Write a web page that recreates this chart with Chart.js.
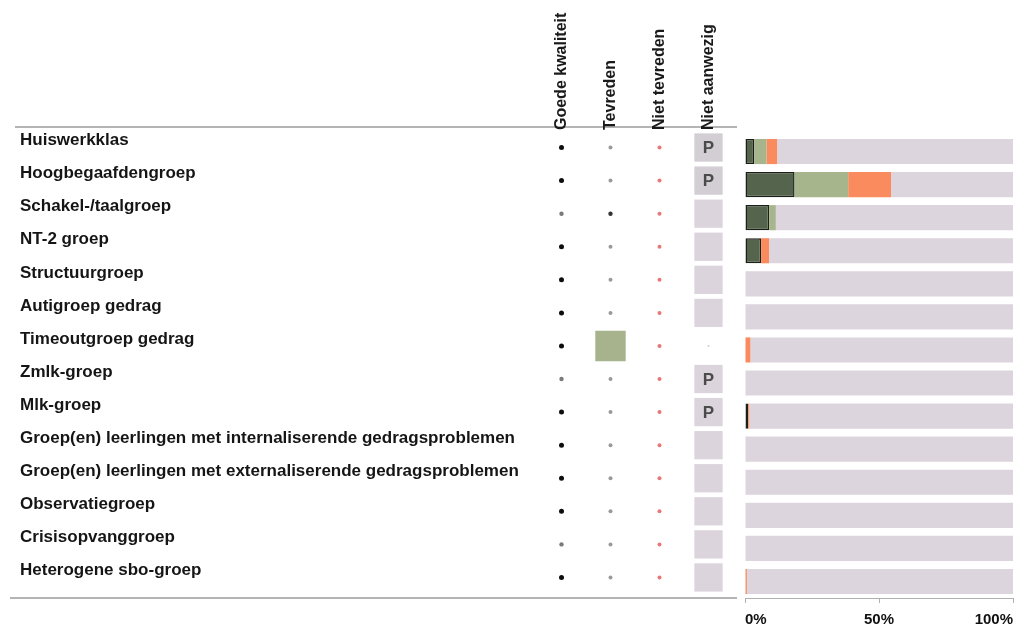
<!DOCTYPE html>
<html>
<head>
<meta charset="utf-8">
<script src="https://cdn.jsdelivr.net/npm/chart.js@4"></script>
<style>
    html, body { margin: 0; background: #fff; }
    #wrap { position: relative; width: 1016px; height: 633px; overflow: hidden; }
    #left { position: absolute; left: 0; top: 0; width: 737px; height: 633px; }
    #right { position: absolute; left: 735px; top: 0; width: 281px; height: 633px; }
</style>
</head>
<body>
<div id="wrap">
    <div id="left"><canvas id="chart-matrix"></canvas></div>
    <div id="right"><canvas id="chart-bars"></canvas></div>
</div>
<script>
// Groepen en kolommen
const groepen = [
    'Huiswerkklas',
    'Hoogbegaafdengroep',
    'Schakel-/taalgroep',
    'NT-2 groep',
    'Structuurgroep',
    'Autigroep gedrag',
    'Timeoutgroep gedrag',
    'Zmlk-groep',
    'Mlk-groep',
    'Groep(en) leerlingen met internaliserende gedragsproblemen',
    'Groep(en) leerlingen met externaliserende gedragsproblemen',
    'Observatiegroep',
    'Crisisopvanggroep',
    'Heterogene sbo-groep',
];
const kolommen = ['Goede kwaliteit', 'Tevreden', 'Niet tevreden', 'Niet aanwezig'];

// 2 = zwarte stip, 1 = grijze stip, 3 = groen vlak
const goedeKwaliteit = [2, 2, 1, 2, 2, 2, 2, 1, 2, 2, 2, 2, 1, 2];
const tevreden = [1, 1, 2, 1, 1, 1, 3, 1, 1, 1, 1, 1, 1, 1];
const nietTevreden = [1, 1, 1, 1, 1, 1, 1, 1, 1, 1, 1, 1, 1, 1];
// 'P' = vak met P, '' = leeg vak, '-' = alleen een stipje
const nietAanwezig = ['P', 'P', '', '', '', '', '-', 'P', 'P', '', '', '', '', ''];

// Balken (%)
const donkerGroen = [3.5, 18.5, 9, 6, 0, 0, 0, 0, 1.2, 0, 0, 0, 0, 0];
const lichtGroen = [4.5, 20, 2.5, 0, 0, 0, 0, 0, 0, 0, 0, 0, 0, 0];
const oranje = [4, 16, 0, 3, 0, 0, 2, 0, 0.4, 0, 0, 0, 0, 0.7];
const xTicks = [0, 50, 100];

const FONT = '"Liberation Sans", Arial, sans-serif';

function stipDataset(kolom, waarden, kleuren, radii) {
    return {
        data: groepen.map(g => ({ x: kolom, y: g })),
        pointStyle: waarden.map(v => (v === 3 ? 'rect' : 'circle')),
        pointRadius: waarden.map(v => radii[v]),
        pointBackgroundColor: waarden.map(v => kleuren[v]),
        pointBorderWidth: 0,
    };
}

// no side padding for tick labels, the plot area is set by hand
const noLabelPadding = s => {
    s.paddingLeft = 0;
    s.paddingRight = 0;
};

const regels = {
    id: 'regels',
    beforeDraw(chart) {
        const { ctx, chartArea } = chart;
        ctx.save();
        ctx.strokeStyle = '#9c9c9c';
        ctx.lineWidth = 1.5;
        ctx.beginPath();
        ctx.moveTo(15, chartArea.top - 4);
        ctx.lineTo(chart.width, chartArea.top - 4);
        ctx.moveTo(10, chartArea.bottom + 4);
        ctx.lineTo(chart.width, chartArea.bottom + 4);
        ctx.stroke();
        ctx.restore();
    },
};

const pLetters = {
    id: 'pLetters',
    afterDatasetsDraw(chart) {
        const meta = chart.getDatasetMeta(3);
        const ctx = chart.ctx;
        ctx.save();
        ctx.font = 'bold 17px ' + FONT;
        ctx.fillStyle = '#4b4b4b';
        ctx.textAlign = 'center';
        ctx.textBaseline = 'middle';
        meta.data.forEach((pt, i) => {
            if (nietAanwezig[i] === 'P') ctx.fillText('P', pt.x, pt.y + 1);
        });
        ctx.restore();
    },
};

new Chart(document.getElementById('chart-matrix'), {
    type: 'scatter',
    data: {
        datasets: [
            stipDataset(kolommen[0], goedeKwaliteit, { 1: '#7a7a7a', 2: '#0d0d0d' }, { 1: 2.2, 2: 2.5 }),
            stipDataset(kolommen[1], tevreden, { 1: '#9a9a9a', 2: '#333333', 3: '#a7b38d' }, { 1: 2, 2: 2.2, 3: 21.5 }),
            stipDataset(kolommen[2], nietTevreden, { 1: '#e97777' }, { 1: 2 }),
            {
                data: groepen.map(g => ({ x: kolommen[3], y: g })),
                pointStyle: 'rect',
                pointRadius: nietAanwezig.map(v => (v === '-' ? 1.2 : 20)),
                pointBackgroundColor: nietAanwezig.map((v, i) => (v === '-' ? '#cccccc' : i < 2 ? '#d2ced3' : '#dcd4dc')),
                pointBorderWidth: 0,
            },
        ],
    },
    options: {
        responsive: true,
        maintainAspectRatio: false,
        animation: false,
        layout: { autoPadding: false, padding: { left: 20, right: 4, top: 0, bottom: 39 } },
        scales: {
            x: {
                type: 'category',
                labels: kolommen,
                position: 'top',
                offset: true,
                grid: { display: false },
                border: { display: false },
                afterFit: s => {
                    s.height = 131;
                    noLabelPadding(s);
                },
                ticks: {
                    color: '#1a1a1a',
                    font: { family: FONT, size: 16, weight: 'bold' },
                    minRotation: 90,
                    maxRotation: 90,
                    padding: -7,
                    labelOffset: 19,
                },
            },
            y: {
                type: 'category',
                labels: groepen,
                offset: true,
                grid: { display: false },
                border: { display: false },
                afterFit: s => { s.width = 517; },
                ticks: {
                    crossAlign: 'far',
                    labelOffset: -7,
                    color: '#151515',
                    font: { family: FONT, size: 17, weight: 'bold' },
                },
            },
        },
        plugins: {
            legend: { display: false },
            tooltip: { enabled: false },
        },
    },
    plugins: [regels, pLetters],
});

const rest = groepen.map((g, i) => 100 - donkerGroen[i] - lichtGroen[i] - oranje[i]);

new Chart(document.getElementById('chart-bars'), {
    type: 'bar',
    data: {
        labels: groepen,
        datasets: [
            { label: 'Goede kwaliteit', data: donkerGroen, backgroundColor: '#55654d', borderColor: '#1b1f18', borderWidth: 1.5, borderSkipped: false },
            { label: 'Tevreden', data: lichtGroen, backgroundColor: '#a6b58b' },
            { label: 'Niet tevreden', data: oranje, backgroundColor: '#f98b5e' },
            { label: 'Rest', data: rest, backgroundColor: '#ddd5dd' },
        ],
    },
    options: {
        indexAxis: 'y',
        responsive: true,
        maintainAspectRatio: false,
        animation: false,
        layout: { padding: { left: 10, right: 3, top: 135, bottom: 0 } },
        datasets: { bar: { barPercentage: 0.76, categoryPercentage: 1 } },
        scales: {
            x: {
                stacked: true,
                min: 0,
                max: 100,
                afterBuildTicks: s => { s.ticks = xTicks.map(v => ({ value: v })); },
                afterFit: s => {
                    s.height = 35;
                    noLabelPadding(s);
                },
                grid: { drawOnChartArea: false, tickLength: 5, color: '#b0b0b0' },
                border: { color: '#b0b0b0' },
                ticks: {
                    align: 'inner',
                    color: '#111111',
                    padding: 8,
                    font: { family: FONT, size: 15, weight: 'bold' },
                    callback: v => v + '%',
                },
            },
            y: {
                stacked: true,
                display: false,
            },
        },
        plugins: {
            legend: { display: false },
            tooltip: { enabled: false },
        },
    },
});
</script>
</body>
</html>
